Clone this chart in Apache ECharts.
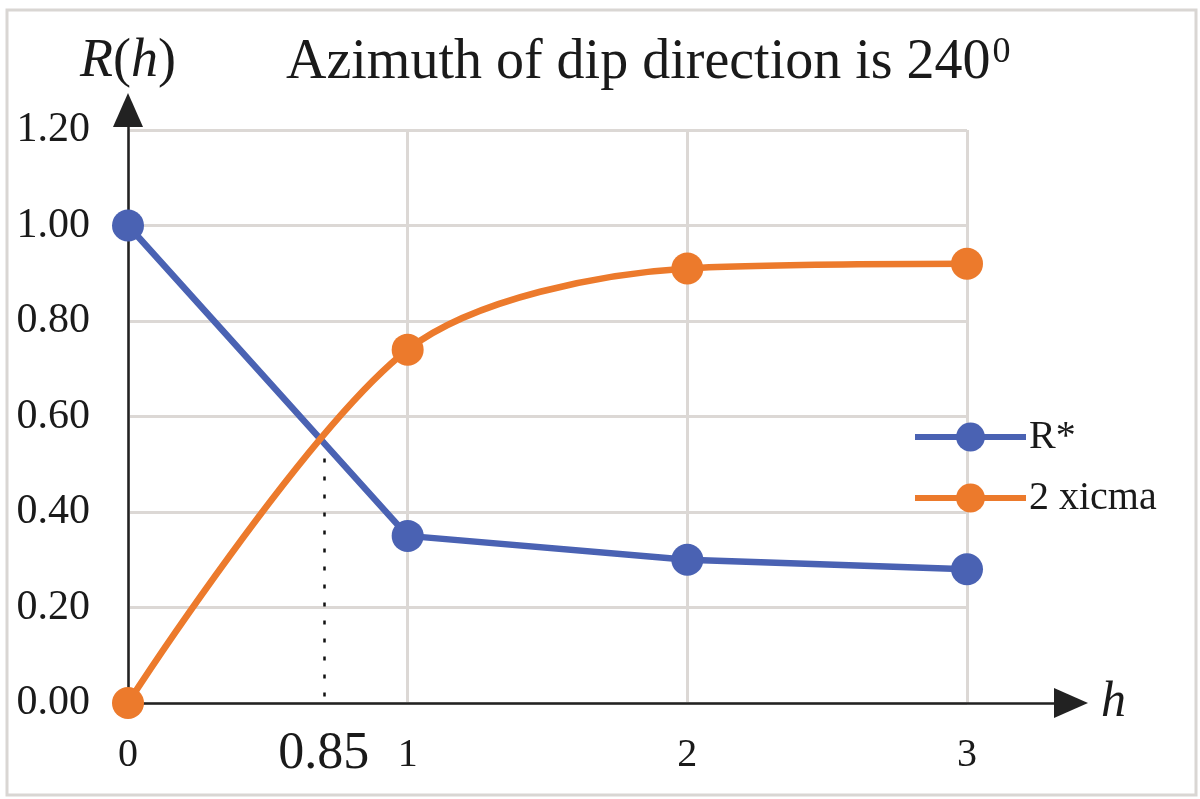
<!DOCTYPE html>
<html>
<head>
<meta charset="utf-8">
<script src="https://cdn.jsdelivr.net/npm/echarts@6/dist/echarts.min.js"></script>
<style>
html,body{margin:0;padding:0;background:#fff;}
#chart{width:1200px;height:799px;}
</style>
</head>
<body>
<div id="chart"></div>
<script>
// ---- data ----
const hValues = [0, 1, 2, 3];
const rStar = [1.00, 0.35, 0.30, 0.28];
const xicma2 = [0.00, 0.74, 0.91, 0.92];
const seriesNames = ['R*', '2 xicma'];
const crossPoint = [0.70, 0.55];
const crossLabel = '0.85';
const titleMain = 'Azimuth of dip direction is 240';
const titleSup = '0';

const FONT = "'Liberation Serif', 'Times New Roman', serif";
const TXT = '#1a1a1a';
const GRIDC = '#dcd8d5';
const BLUE = '#4a62b3';
const ORANGE = '#ec7a2c';

const chart = echarts.init(document.getElementById('chart'), null, {renderer: 'canvas'});

const option = {
  backgroundColor: '#ffffff',
  animation: false,
  title: {
    text: '{a|' + titleMain + '}{s|' + titleSup + '}',
    left: 286,
    top: 35,
    padding: 0,
    textStyle: {
      fontWeight: 'normal',
      rich: {
        a: {fontFamily: FONT, fontWeight: 'normal', fontSize: 56, color: TXT, lineHeight: 60, verticalAlign: 'top'},
        s: {fontFamily: FONT, fontWeight: 'normal', fontSize: 36, color: TXT, lineHeight: 38, verticalAlign: 'top', padding: [0, 0, 0, 2]}
      }
    }
  },
  graphic: [{
    type: 'rect',
    silent: true,
    shape: {x: 7, y: 10, width: 1189, height: 785},
    style: {fill: 'none', stroke: '#d9d6d3', lineWidth: 3}
  }],
  legend: {
    left: 907,
    top: 412,
    orient: 'vertical',
    itemWidth: 111,
    itemHeight: 36,
    itemGap: 21,
    lineStyle: {width: 6},
    textStyle: {fontFamily: FONT, fontSize: 40, color: TXT, lineHeight: 36, padding: [0, 0, 0, -2]},
    data: seriesNames
  },
  grid: [
    {left: 128, right: 233, top: 130, bottom: 96},
    {left: 128, right: 129, top: 110, bottom: 96}
  ],
  xAxis: [
    {
      type: 'value', gridIndex: 0, min: 0, max: 3, interval: 1,
      axisLine: {show: false},
      axisTick: {show: false},
      axisLabel: {fontFamily: FONT, fontSize: 40, color: TXT, margin: 32},
      splitLine: {show: true, lineStyle: {color: GRIDC, width: 3}}
    },
    {
      type: 'value', gridIndex: 1, min: 0, max: 1,
      name: '{i|h}',
      nameLocation: 'end',
      nameGap: 30,
      nameTextStyle: {rich: {i: {fontFamily: FONT, fontStyle: 'italic', fontSize: 50, color: TXT}}},
      axisLine: {show: true, symbol: ['none', 'triangle'], symbolSize: [30, 34], lineStyle: {color: '#222', width: 2.5}},
      axisTick: {show: false}, axisLabel: {show: false}, splitLine: {show: false}
    }
  ],
  yAxis: [
    {
      type: 'value', gridIndex: 0, min: 0, max: 1.2, interval: 0.2,
      axisLine: {show: false},
      axisTick: {show: false},
      axisLabel: {fontFamily: FONT, fontSize: 42, color: TXT, margin: 38, formatter: v => v.toFixed(2)},
      splitLine: {show: true, lineStyle: {color: GRIDC, width: 3}}
    },
    {
      type: 'value', gridIndex: 1, min: 0, max: 1,
      name: '{i|R}{n|(}{i|h}{n|)}',
      nameLocation: 'end',
      nameGap: 21,
      nameTextStyle: {rich: {
        i: {fontFamily: FONT, fontStyle: 'italic', fontSize: 54, color: TXT, lineHeight: 54},
        n: {fontFamily: FONT, fontSize: 54, color: TXT, lineHeight: 54}
      }},
      axisLine: {show: true, symbol: ['none', 'triangle'], symbolSize: [30, 34], lineStyle: {color: '#222', width: 2.5}},
      axisTick: {show: false}, axisLabel: {show: false}, splitLine: {show: false}
    }
  ],
  series: [
    {
      name: seriesNames[0],
      type: 'line',
      xAxisIndex: 0, yAxisIndex: 0,
      data: hValues.map((h, i) => [h, rStar[i]]),
      symbol: 'circle',
      symbolSize: 32,
      smooth: false,
      lineStyle: {color: BLUE, width: 6.5},
      itemStyle: {color: BLUE},
      z: 3,
      markLine: {
        silent: true,
        symbol: ['none', 'none'],
        lineStyle: {color: '#111', type: [4, 14], width: 2.5},
        label: {show: true, position: 'end', distance: 25, formatter: crossLabel,
                fontFamily: FONT, fontSize: 52, color: TXT},
        data: [[{coord: [crossPoint[0], crossPoint[1]]}, {coord: [crossPoint[0], 0]}]],
        z: 1
      }
    },
    {
      name: seriesNames[1],
      type: 'line',
      xAxisIndex: 0, yAxisIndex: 0,
      data: hValues.map((h, i) => [h, xicma2[i]]),
      symbol: 'circle',
      symbolSize: 32,
      smooth: 0.3,
      lineStyle: {color: ORANGE, width: 6.5},
      itemStyle: {color: ORANGE},
      z: 4
    }
  ]
};
chart.setOption(option);
</script>
</body>
</html>
